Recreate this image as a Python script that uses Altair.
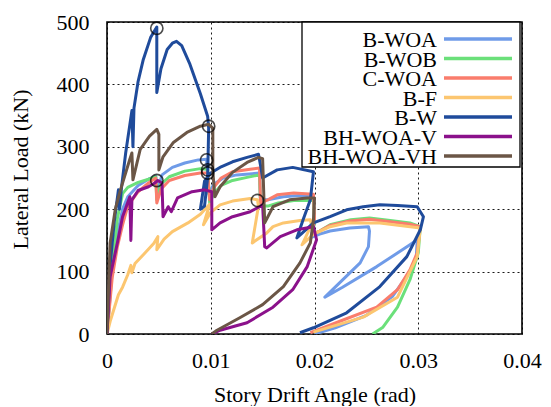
import altair as alt
import pandas as pd

series_names = ["B-WOA", "B-WOB", "C-WOA", "B-F", "B-W", "BH-WOA-V", "BH-WOA-VH"]
series_colors = ["#6f9be8", "#6be07a", "#fa7d6c", "#fcc670", "#1f4b9b", "#8b118b", "#6b5646"]

# B-WOA
bwoa_x = [0, 0.0005, 0.0010, 0.0015, 0.0020, 0.0030, 0.0040, 0.0047, 0.0048, 0.0053, 0.0063, 0.0075,
          0.0088, 0.0096, 0.0098, 0.0103, 0.0112, 0.0125, 0.0140, 0.0147, 0.0148, 0.0155, 0.0170, 0.0185,
          0.0199, 0.0200, 0.0197, 0.0205, 0.0215, 0.0234, 0.0252, 0.0253, 0.0252, 0.0244, 0.0210, 0.0227,
          0.0260, 0.0292, 0.0299, 0.0298, 0.0290, 0.0275, 0.0250, 0.0220, 0.0200]
bwoa_y = [0, 100, 160, 200, 220, 238, 248, 253, 225, 255, 267, 274,
          279, 280, 225, 240, 250, 255, 257, 258, 215, 215, 220, 222,
          220, 180, 155, 160, 165, 170, 172, 165, 140, 114, 59, 75,
          108, 143, 151, 120, 95, 60, 30, 10, 0]

# B-WOB
bwob_x = [0, 0.0005, 0.0010, 0.0015, 0.0020, 0.0030, 0.0040, 0.0047, 0.0048, 0.0052, 0.0060, 0.0075,
          0.0090, 0.0097, 0.0099, 0.0103, 0.0110, 0.0121, 0.0135, 0.0147, 0.0148, 0.0155, 0.0165, 0.0180,
          0.0199, 0.0200, 0.0198, 0.0205, 0.0215, 0.0235, 0.0253, 0.0273, 0.0292, 0.0302, 0.0300, 0.0292,
          0.0280, 0.0266, 0.0256]
bwob_y = [0, 110, 185, 225, 235, 243, 248, 252, 215, 240, 252, 261,
          265, 264, 210, 225, 238, 246, 251, 255, 205, 205, 210, 214,
          214, 180, 160, 165, 175, 183, 186, 182, 178, 172, 130, 87,
          43, 11, 0]

# C-WOA
cwoa_x = [0, 0.0005, 0.0010, 0.0015, 0.0020, 0.0030, 0.0040, 0.0047, 0.0048, 0.0052, 0.0060, 0.0075,
          0.0090, 0.0097, 0.0099, 0.0103, 0.0110, 0.0121, 0.0138, 0.0147, 0.0148, 0.0155, 0.0164, 0.0180,
          0.0199, 0.0200, 0.0198, 0.0205, 0.0215, 0.0234, 0.0253, 0.0273, 0.0292, 0.0302, 0.0299, 0.0292,
          0.0280, 0.0260, 0.0227, 0.0196]
cwoa_y = [0, 90, 140, 175, 205, 228, 242, 250, 210, 232, 246, 254,
          258, 258, 215, 235, 250, 260, 264, 266, 210, 215, 223, 226,
          224, 185, 160, 165, 174, 181, 184, 180, 176, 172, 130, 103,
          71, 43, 22, 2]

# B-F
bf_x = [0, 0.0003, 0.0011, 0.0015, 0.0020, 0.0023, 0.0024, 0.0027, 0.0035, 0.0045, 0.0049, 0.0048,
        0.0055, 0.0063, 0.0078, 0.0090, 0.0099, 0.0093, 0.0100, 0.0109, 0.0121, 0.0138, 0.0145, 0.0146,
        0.0140, 0.0154, 0.0160, 0.0170, 0.0186, 0.0196, 0.0197, 0.0188, 0.0199, 0.0215, 0.0231, 0.0263,
        0.0302, 0.0299, 0.0280, 0.0247, 0.0199]
bf_y = [0, 20, 63, 75, 95, 110, 98, 113, 127, 145, 156, 135,
        152, 164, 178, 192, 208, 175, 195, 207, 213, 217, 215, 205,
        146, 162, 172, 178, 182, 183, 175, 143, 160, 172, 178, 178,
        170, 124, 59, 27, 3]

# B-W
bw_x = [0, 0.0003, 0.0007, 0.0011, 0.0012, 0.0014, 0.0018, 0.0024, 0.0025, 0.0026, 0.0030, 0.0035,
        0.0042, 0.0048, 0.0048, 0.0052, 0.0058, 0.0063, 0.0067, 0.0072, 0.0080, 0.0090, 0.0097, 0.0098,
        0.0097, 0.0094, 0.0090, 0.0094, 0.0100, 0.0110, 0.0121, 0.0135, 0.0146, 0.0148, 0.0150, 0.0164,
        0.0179, 0.0199, 0.0196, 0.0189, 0.0183, 0.0199, 0.0215, 0.0231, 0.0247, 0.0263, 0.0280, 0.0299,
        0.0305, 0.0302, 0.0289, 0.0263, 0.0231, 0.0199, 0.0186]
bw_y = [0, 110, 180, 231, 200, 235, 290, 358, 300, 362, 405, 440,
        475, 492, 387, 425, 456, 466, 469, 462, 432, 385, 349, 330,
        250, 205, 200, 245, 258, 268, 276, 283, 288, 270, 250, 263,
        267, 260, 215, 183, 154, 178, 188, 199, 204, 207, 206, 204,
        188, 167, 124, 76, 34, 10, 2]

# BH-WOA-V
bhv_x = [0, 0.0003, 0.0010, 0.0015, 0.0022, 0.0023, 0.0024, 0.0030, 0.0040, 0.0046, 0.0049, 0.0053,
         0.0054, 0.0059, 0.0062, 0.0068, 0.0082, 0.0094, 0.0101, 0.0101, 0.0109, 0.0121, 0.0138, 0.0147,
         0.0150, 0.0152, 0.0154, 0.0167, 0.0183, 0.0199, 0.0202, 0.0193, 0.0179, 0.0160, 0.0135, 0.0109,
         0.0101]
bhv_y = [0, 92, 146, 188, 220, 150, 215, 230, 236, 242, 246, 242,
         188, 204, 196, 218, 228, 231, 228, 167, 178, 188, 196, 204,
         207, 140, 138, 156, 167, 172, 151, 108, 71, 43, 18, 6,
         0]

# BH-WOA-VH
bhvh_x = [0, 0.0003, 0.0008, 0.0013, 0.0022, 0.0024, 0.0025, 0.0032, 0.0041, 0.0048, 0.0050, 0.0050,
          0.0054, 0.0064, 0.0077, 0.0090, 0.0098, 0.0102, 0.0102, 0.0104, 0.0109, 0.0121, 0.0135, 0.0146,
          0.0150, 0.0151, 0.0152, 0.0160, 0.0176, 0.0193, 0.0200, 0.0199, 0.0196, 0.0186, 0.0170, 0.0150,
          0.0128, 0.0106, 0.0101]
bhvh_y = [0, 146, 200, 231, 280, 290, 247, 296, 317, 328, 320, 263,
          284, 307, 323, 333, 336, 330, 260, 220, 236, 259, 275, 283,
          281, 230, 178, 204, 215, 218, 218, 183, 146, 114, 76, 47,
          26, 6, 0]

# peak markers
peak_x = [0.0048, 0.0098, 0.0096, 0.0097, 0.0097, 0.0048, 0.0145]
peak_y = [490, 333, 279, 263, 258, 246, 214]

xs = [bwoa_x, bwob_x, cwoa_x, bf_x, bw_x, bhv_x, bhvh_x]
ys = [bwoa_y, bwob_y, cwoa_y, bf_y, bw_y, bhv_y, bhvh_y]

rows = []
for name, sx, sy in zip(series_names, xs, ys):
    for i, (a, b) in enumerate(zip(sx, sy)):
        rows.append({"series": name, "idx": i, "drift": a, "load": b})
df = pd.DataFrame(rows)
peaks = pd.DataFrame({"drift": peak_x, "load": peak_y})
legend_df = pd.DataFrame({"series": series_names})

FONT = "Liberation Serif"

xscale = alt.Scale(domain=[0, 0.04], nice=False, zero=False)
yscale = alt.Scale(domain=[0, 500], nice=False)
cscale = alt.Scale(domain=series_names, range=series_colors)
# legend rows: point scale over the series names
lscale = alt.Scale(type="point", domain=series_names, range=[17, 134], padding=0)

lines = alt.Chart(df).mark_line(strokeWidth=3, strokeJoin="round", clip=True).encode(
    x=alt.X("drift:Q", scale=xscale,
            axis=alt.Axis(values=[0, 0.01, 0.02, 0.03, 0.04], format="~g",
                          title="Story Drift Angle (rad)", titleY=67, titleBaseline="alphabetic",
                          labelPadding=16, labelFlush=False)),
    y=alt.Y("load:Q", scale=yscale,
            axis=alt.Axis(values=[0, 100, 200, 300, 400, 500], format="d",
                          title="Lateral Load (kN)", titleX=-80, titleY=147,
                          titleBaseline="alphabetic", titleAlign="center",
                          labelPadding=18, labelFlush=False)),
    color=alt.Color("series:N", scale=cscale, legend=None),
    order="idx:Q",
)

circles = alt.Chart(peaks).mark_point(shape="circle", filled=False, color="black",
                                      size=150, strokeWidth=1.6).encode(
    x=alt.X("drift:Q", scale=xscale),
    y=alt.Y("load:Q", scale=yscale, axis=None),
)

legend_box = alt.Chart(pd.DataFrame({"k": [0]})).mark_rect(
    fill="white", stroke="black", strokeWidth=1.3
).encode(x=alt.value(195), x2=alt.value(413), y=alt.value(0), y2=alt.value(145))

legend_lines = alt.Chart(legend_df).mark_rule(strokeWidth=3.5).encode(
    x=alt.value(337), x2=alt.value(405),
    y=alt.Y("series:N", scale=lscale, axis=None),
    color=alt.Color("series:N", scale=cscale, legend=None),
)

legend_text = alt.Chart(legend_df).mark_text(
    align="right", baseline="middle", font=FONT, fontSize=22, color="black", dy=1
).encode(
    x=alt.value(330),
    y=alt.Y("series:N", scale=lscale, axis=None),
    text="series:N",
)

chart = alt.layer(lines, circles, legend_box, legend_lines, legend_text).resolve_scale(
    y="independent"
).properties(
    width=415, height=312,
    autosize=alt.AutoSizeParams(type="none"),
    padding={"left": 99, "top": 14, "right": 20, "bottom": 72},
).configure_view(
    stroke="black", strokeWidth=1.6,
).configure_axis(
    grid=True, gridColor="black", gridDash=[2, 3], gridWidth=1, gridOpacity=0.9,
    domain=False, ticks=False, tickSize=0,
    labelFont=FONT, labelFontSize=22, labelColor="black",
    titleFont=FONT, titleFontSize=22, titleFontWeight="normal", titleColor="black",
)

chart.save("out.html", embed_options={"renderer": "svg", "actions": False})
